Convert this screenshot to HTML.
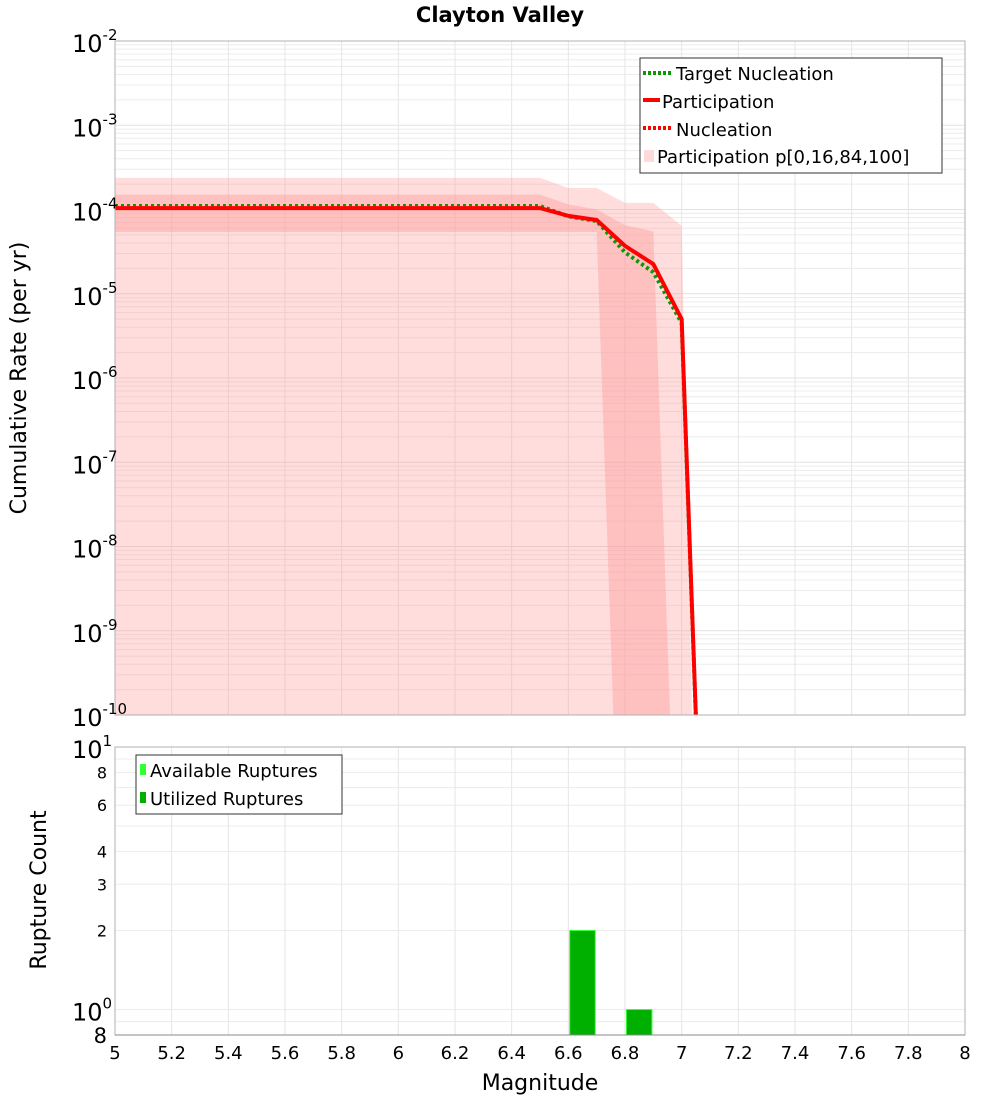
<!DOCTYPE html>
<html><head><meta charset="utf-8"><style>
body{margin:0;background:#fff;font-family:"Liberation Sans","DejaVu Sans",sans-serif}
svg text{font-family:"DejaVu Sans","Liberation Sans",sans-serif}
</style></head><body>
<svg id="c" width="1000" height="1100" xmlns="http://www.w3.org/2000/svg">
<defs>
<clipPath id="topclip"><rect x="115" y="41" width="850" height="674"/></clipPath>
<clipPath id="botclip"><rect x="115" y="747" width="850" height="288"/></clipPath>
</defs>
<text x="500" y="22" text-anchor="middle" font-size="21" font-weight="bold">Clayton Valley</text>
<g id="topg"></g>
<g id="botg"></g>
</svg>
<script>
const mags=[5.0,5.1,5.2,5.3,5.4,5.5,5.6,5.7,5.8,5.9,6.0,6.1,6.2,6.3,6.4,6.5,6.6,6.7,6.8,6.9,7.0,7.1];
const participation=[1.04e-4,1.04e-4,1.04e-4,1.04e-4,1.04e-4,1.04e-4,1.04e-4,1.04e-4,1.04e-4,1.04e-4,1.04e-4,1.04e-4,1.04e-4,1.04e-4,1.04e-4,1.04e-4,8.4e-5,7.5e-5,3.7e-5,2.25e-5,5e-6,2e-15];
const nucleation=[1.04e-4,1.04e-4,1.04e-4,1.04e-4,1.04e-4,1.04e-4,1.04e-4,1.04e-4,1.04e-4,1.04e-4,1.04e-4,1.04e-4,1.04e-4,1.04e-4,1.04e-4,1.04e-4,8.4e-5,7.5e-5,3.7e-5,2.25e-5,5e-6,2e-15];
const targetNucleation=[1.1e-4,1.1e-4,1.1e-4,1.1e-4,1.1e-4,1.1e-4,1.1e-4,1.1e-4,1.1e-4,1.1e-4,1.1e-4,1.1e-4,1.1e-4,1.1e-4,1.1e-4,1.1e-4,8.3e-5,7.3e-5,3.1e-5,1.8e-5,4.5e-6,2e-15];
const p100=[2.37e-4,2.37e-4,2.37e-4,2.37e-4,2.37e-4,2.37e-4,2.37e-4,2.37e-4,2.37e-4,2.37e-4,2.37e-4,2.37e-4,2.37e-4,2.37e-4,2.37e-4,2.37e-4,1.8e-4,1.8e-4,1.2e-4,1.2e-4,6.4e-5,1e-20];
const p84=[1.5e-4,1.5e-4,1.5e-4,1.5e-4,1.5e-4,1.5e-4,1.5e-4,1.5e-4,1.5e-4,1.5e-4,1.5e-4,1.5e-4,1.5e-4,1.5e-4,1.5e-4,1.5e-4,1.15e-4,1.0e-4,6.5e-5,5.5e-5,1e-14,1e-20];
const p16=[5.4e-5,5.4e-5,5.4e-5,5.4e-5,5.4e-5,5.4e-5,5.4e-5,5.4e-5,5.4e-5,5.4e-5,5.4e-5,5.4e-5,5.4e-5,5.4e-5,5.4e-5,5.4e-5,5.4e-5,5.4e-5,1e-14,1e-14,1e-14,1e-20];
const barMags=[6.65,6.85];
const barCounts=[2,1];
const xTicks=[5,5.2,5.4,5.6,5.8,6,6.2,6.4,6.6,6.8,7,7.2,7.4,7.6,7.8,8];
const topExps=[-2,-3,-4,-5,-6,-7,-8,-9,-10];
const botTicks=[8,6,4,3,2];

const NS="http://www.w3.org/2000/svg";
const X0=115,X1=965,T0=41,T1=715,B0=747,B1=1035;
const xs=m=>X0+(m-5)/3*(X1-X0);
const ys=v=>T0+(-2-Math.log10(v))/8*(T1-T0);
const yb=v=>B0+(1-Math.log10(v))/(1-Math.log10(0.8))*(B1-B0);
function mk(p,tag,at,txt){const e=document.createElementNS(NS,tag);for(const k in at)e.setAttribute(k,at[k]);if(txt!==undefined)e.textContent=txt;p.appendChild(e);return e;}
const gTop=document.getElementById('topg'),gBot=document.getElementById('botg');

let r=mk(gTop,'rect',{x:X0,y:T0,width:X1-X0,height:T1-T0,fill:'#fff'});


for(let e=-10;e<-2;e++)for(let k=1;k<10;k++){const y=ys(k*Math.pow(10,e));mk(gTop,'line',{x1:X0,x2:X1,y1:y,y2:y,stroke:k==1?'#e2e2e2':'#ececec','stroke-width':1});}
xTicks.forEach(m=>{mk(gTop,'line',{x1:xs(m),x2:xs(m),y1:T0,y2:T1,stroke:'#e6e6e6'});});
const tg=mk(gTop,'g',{'clip-path':'url(#topclip)'});
function band(up,lo,fill,name){let pts=mags.map((m,i)=>xs(m)+','+ys(up[i]));
 for(let i=mags.length-1;i>=0;i--)pts.push(xs(mags[i])+','+(lo?ys(lo[i]):T1+10));
 const p=mk(tg,'polygon',{points:pts.join(' '),fill:fill});
 
 }
band(p100,null,'rgba(255,150,150,0.32)','band-p0-100');
band(p84,p16,'rgba(255,150,150,0.4)','band-p16-84');
function line(vals,color,w,dash,name){const p=mk(tg,'polyline',{points:mags.map((m,i)=>xs(m)+','+ys(vals[i])).join(' '),fill:'none',stroke:color,'stroke-width':w,'stroke-dasharray':dash||'none','stroke-linejoin':'round'});
 
 }
line(targetNucleation,'#0a9900',4,'3,3','target-nucleation-line');
line(nucleation,'#ff0000',3,'3,3','nucleation-line');
line(participation,'#ff0000',4,null,'participation-line');
mk(gTop,'rect',{x:X0,y:T0,width:X1-X0,height:T1-T0,fill:'none',stroke:'#b0b0b0'});
topExps.forEach(e=>{const y=ys(Math.pow(10,e));const t=mk(gTop,'text',{x:72,y:y+11,'font-size':24});
 
 
 t.textContent='10';mk(t,'tspan',{dy:-12,'font-size':15},String(e));});
let yt=mk(gTop,'text',{x:26,y:378,'font-size':22,'text-anchor':'middle',transform:'rotate(-90 26 378)'},'Cumulative Rate (per yr)');


const lg=mk(gTop,'g',{});


mk(lg,'rect',{x:640,y:58,width:302,height:115,fill:'#fff',stroke:'#333'});
mk(lg,'line',{x1:643,x2:671,y1:73,y2:73,stroke:'#0a9900','stroke-width':4,'stroke-dasharray':'3,2'});
mk(lg,'text',{x:676,y:80,'font-size':18},'Target Nucleation');
mk(lg,'line',{x1:643,x2:660,y1:100,y2:100,stroke:'#f00','stroke-width':4});
mk(lg,'text',{x:662,y:108,'font-size':18},'Participation');
mk(lg,'line',{x1:643,x2:671,y1:128,y2:128,stroke:'#f00','stroke-width':4,'stroke-dasharray':'3,2'});
mk(lg,'text',{x:676,y:136,'font-size':18},'Nucleation');
mk(lg,'rect',{x:644,y:150,width:10,height:12,fill:'rgba(255,150,150,0.35)'});
mk(lg,'text',{x:657,y:163,'font-size':18},'Participation p[0,16,84,100]');

mk(gBot,'rect',{x:X0,y:B0,width:X1-X0,height:B1-B0,fill:'#fff'});
[10,9,8,7,6,5,4,3,2,1,0.9,0.8].forEach(v=>{const y=yb(v);mk(gBot,'line',{x1:X0,x2:X1,y1:y,y2:y,stroke:'#ececec'});});
xTicks.forEach(m=>{mk(gBot,'line',{x1:xs(m),x2:xs(m),y1:B0,y2:B1,stroke:'#e6e6e6'});});
const bg=mk(gBot,'g',{'clip-path':'url(#botclip)'});
barMags.forEach((m,i)=>{const w=xs(0.09)-xs(0);const b=mk(bg,'rect',{x:xs(m)-w/2,y:yb(barCounts[i]),width:w,height:B1-yb(barCounts[i])+2,fill:'#00b000',stroke:'#33ff33','stroke-width':1});
 
 });
mk(gBot,'rect',{x:X0,y:B0,width:X1-X0,height:B1-B0,fill:'none',stroke:'#b0b0b0'});
mk(gBot,'line',{x1:X0,x2:X1,y1:B1,y2:B1,stroke:'#888'});
[[10,'1'],[1,'0']].forEach(([v,e])=>{const y=yb(v);const t=mk(gBot,'text',{x:72,y:y+11,'font-size':24});
 
 
 t.textContent='10';mk(t,'tspan',{dy:-12,'font-size':15},e);});
botTicks.forEach(v=>{const t=mk(gBot,'text',{x:107,y:yb(v)+6,'font-size':16,'text-anchor':'end'},String(v));
 
 });
mk(gBot,'text',{x:107,y:1043,'font-size':21,'text-anchor':'end'},'8');
let bt=mk(gBot,'text',{x:46,y:890,'font-size':22,'text-anchor':'middle',transform:'rotate(-90 46 890)'},'Rupture Count');


xTicks.forEach(m=>{const t=mk(gBot,'text',{x:xs(m),y:1059,'font-size':18,'text-anchor':'middle'},String(m));
 
 });
let xt=mk(gBot,'text',{x:540,y:1090,'font-size':22,'text-anchor':'middle'},'Magnitude');


const lg2=mk(gBot,'g',{});


mk(lg2,'rect',{x:136,y:755,width:206,height:59,fill:'#fff',stroke:'#333'});
mk(lg2,'rect',{x:140,y:764,width:6,height:11,fill:'#33ff33'});
mk(lg2,'text',{x:150,y:777,'font-size':18},'Available Ruptures');
mk(lg2,'rect',{x:140,y:792,width:6,height:11,fill:'#00b000'});
mk(lg2,'text',{x:150,y:805,'font-size':18},'Utilized Ruptures');
</script>
</body></html>
